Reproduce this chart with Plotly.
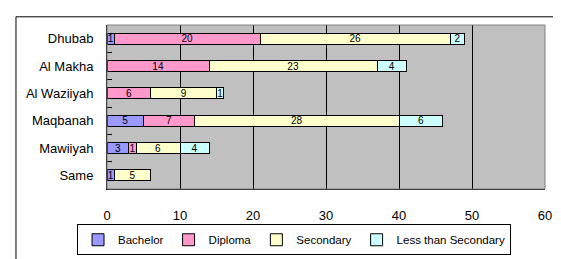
import plotly.graph_objects as go

categories = ["Dhubab", "Al Makha", "Al Waziiyah", "Maqbanah", "Mawiiyah", "Same"]
bachelor = [1, 0, 0, 5, 3, 1]
diploma = [20, 14, 6, 7, 1, 0]
secondary = [26, 23, 9, 28, 6, 5]
less_secondary = [2, 4, 1, 6, 4, 0]
x_ticks = [0, 10, 20, 30, 40, 50, 60]

series = [
    ("Bachelor", bachelor, "#9999FF"),
    ("Diploma", diploma, "#FF99CC"),
    ("Secondary", secondary, "#FFFFCC"),
    ("Less than Secondary", less_secondary, "#CCFFFF"),
]

fig = go.Figure()
for name, vals, color in series:
    fig.add_trace(go.Bar(
        y=categories, x=vals, name=name, orientation="h",
        marker=dict(color=color, line=dict(color="black", width=1)),
        text=[str(v) if v else "" for v in vals],
        textposition="inside", insidetextanchor="middle", textangle=0,
        textfont=dict(family="Liberation Sans, Arial", size=10, color="black"),
        cliponaxis=False,
    ))

fig.update_layout(
    barmode="stack",
    bargap=0.6,
    width=561, height=259,
    margin=dict(l=99, r=24, t=17, b=63),
    paper_bgcolor="white",
    plot_bgcolor="#C0C0C0",
    font=dict(family="Liberation Sans, Arial", size=13, color="black"),
    uniformtext=dict(minsize=10, mode="show"),
    showlegend=True,
    legend=dict(
        orientation="h", x=0.427, y=-0.215, xanchor="center", yanchor="top",
        bordercolor="black", borderwidth=1,
        font=dict(size=11.5), itemwidth=30, traceorder="normal",
        tracegroupgap=0,
    ),
    xaxis=dict(
        range=[0, 60], tickvals=x_ticks, showgrid=True, gridcolor="black",
        gridwidth=1, zeroline=False, showline=True, linecolor="black",
        ticks="", ticklen=0, tickfont=dict(size=13), ticklabelstandoff=14,
    ),
    yaxis=dict(
        autorange="reversed", showgrid=False, showline=True, linecolor="black",
        ticks="inside", tickson="boundaries", ticklen=5, tickcolor="black",
        tickfont=dict(size=13), ticklabelstandoff=10,
    ),
    shapes=[
        dict(type="rect", xref="paper", yref="paper", x0=0, x1=1, y0=0, y1=1,
             line=dict(color="#808080", width=1), layer="above"),
        dict(type="rect", xref="paper", yref="paper", x0=-0.2078, x1=1.2,
             y0=-0.5, y1=1.05, line=dict(color="black", width=1), layer="below"),
    ],
)

fig.write_html("out.html")
